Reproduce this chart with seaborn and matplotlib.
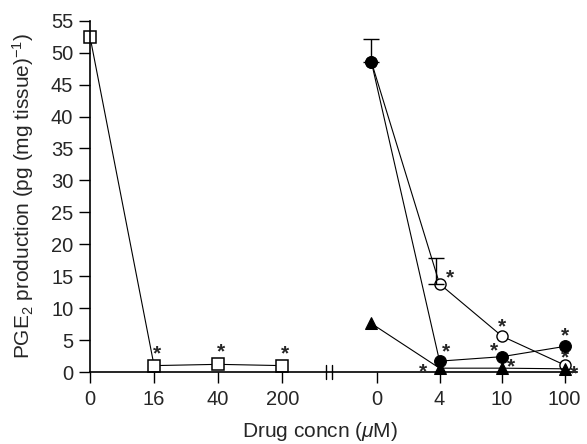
import numpy as np
import pandas as pd
import matplotlib
matplotlib.use("Agg")
import matplotlib.pyplot as plt
import seaborn as sns

# ---- data ----
left_labels = ["0", "16", "40", "200"]
right_labels = ["0", "4", "10", "100"]
squares = [52.5, 1.0, 1.2, 1.0]
filled_circles = [48.6, 1.7, 2.4, 4.0]
open_circles = [48.6, 13.8, 5.6, 1.1]
triangles = [7.6, 0.6, 0.6, 0.5]
filled_err0 = 3.6      # upper error at right 0
open_err4 = 4.0        # upper error at right 4

sns.set_style("ticks")
plt.rcParams['font.family'] = ['Liberation Sans', 'DejaVu Sans']
plt.rcParams['mathtext.fontset'] = 'custom'
plt.rcParams['mathtext.rm'] = 'Liberation Sans'
plt.rcParams['mathtext.it'] = 'Liberation Sans:italic'

fig = plt.figure(figsize=(5.87, 4.44), dpi=100)
ax = fig.add_axes([90/587, 72/444, (577-90)/587, (372-20.7)/444])

lx = np.arange(4, dtype=float)
rx = 4.48 + np.arange(4) * 0.975
rx_pts = rx.copy()
rx_pts[0] -= 0.09

lw = 0.8
sns.lineplot(x=lx, y=squares, ax=ax, color='black', lw=lw, marker='s', ms=8,
             mfc='white', mec='black', mew=1.1, sort=False, clip_on=False)
sns.lineplot(x=rx_pts, y=open_circles, ax=ax, color='black', lw=lw, marker='o', ms=8,
             mfc='white', mec='black', mew=1.0, sort=False, clip_on=False)
sns.lineplot(x=rx_pts, y=triangles, ax=ax, color='black', lw=lw, marker='^', ms=8.5,
             mfc='black', mec='black', sort=False, clip_on=False, zorder=3)
sns.lineplot(x=rx_pts, y=filled_circles, ax=ax, color='black', lw=lw, marker='o', ms=8.5,
             mfc='black', mec='black', sort=False, clip_on=False, zorder=4)

# error bars (upper only)
ax.errorbar([rx_pts[0]], [filled_circles[0]], yerr=[[0], [filled_err0]], fmt='none',
            ecolor='black', elinewidth=1.0, capsize=6, capthick=1.0)
ax.errorbar([rx_pts[1] - 0.05], [open_circles[1]], yerr=[[0], [open_err4]], fmt='none',
            ecolor='black', elinewidth=1.0, capsize=6, capthick=1.0)

# significance asterisks
def star(x, y, dx, dy):
    ax.annotate('*', (x, y), xytext=(dx, dy), textcoords='offset pixels',
                ha='center', va='center', fontsize=15, fontweight='bold',
                annotation_clip=False)

for i in range(1, 4):
    star(lx[i], squares[i], 3, 12)
star(rx_pts[1], filled_circles[1], 6, 9)
star(rx_pts[2], filled_circles[2], -8, 6)
star(rx_pts[3], filled_circles[3], 0, 11)
star(rx_pts[1], open_circles[1], 10, 6)
star(rx_pts[2], open_circles[2], 0, 9)
star(rx_pts[3], open_circles[3], 0, 7)
star(rx_pts[1], triangles[1], -17, -4)
star(rx_pts[2], triangles[2], 9, 1)
star(rx_pts[3], triangles[3], 9, -5)

ax.set_xlim(0, 7.6)
ax.set_ylim(0, 55)
ax.set_yticks(np.arange(0, 56, 5))
ax.set_xticks(np.concatenate([lx, rx]))
ax.set_xticklabels(left_labels + right_labels)
ax.tick_params(axis='both', direction='out', length=8, width=1, labelsize=14.5, color='black')
ax.tick_params(axis='y', pad=4)
ax.tick_params(axis='x', pad=5)
sns.despine(ax=ax)
for s in ['left', 'bottom']:
    ax.spines[s].set_linewidth(1.2)
    ax.spines[s].set_color('black')

# axis break marks
from matplotlib.transforms import blended_transform_factory
tr = blended_transform_factory(ax.transData, ax.transAxes)
for bx in [3.69, 3.77]:
    ax.plot([bx, bx], [-0.02, 0.02], transform=tr, color='black', lw=1, clip_on=False)

ax.set_ylabel(r'PGE$_2$ production (pg (mg tissue)$^{-1}$)', fontsize=15, va='center')
ax.yaxis.set_label_coords((23 - 90) / 487, 0.5)
ax.set_xlabel(r'Drug concn ($\mu$M)', fontsize=15, va='baseline')
ax.xaxis.set_label_coords((320 - 90) / 487, (372 - 437) / 351.3)

fig.savefig('out.png', dpi=100)
